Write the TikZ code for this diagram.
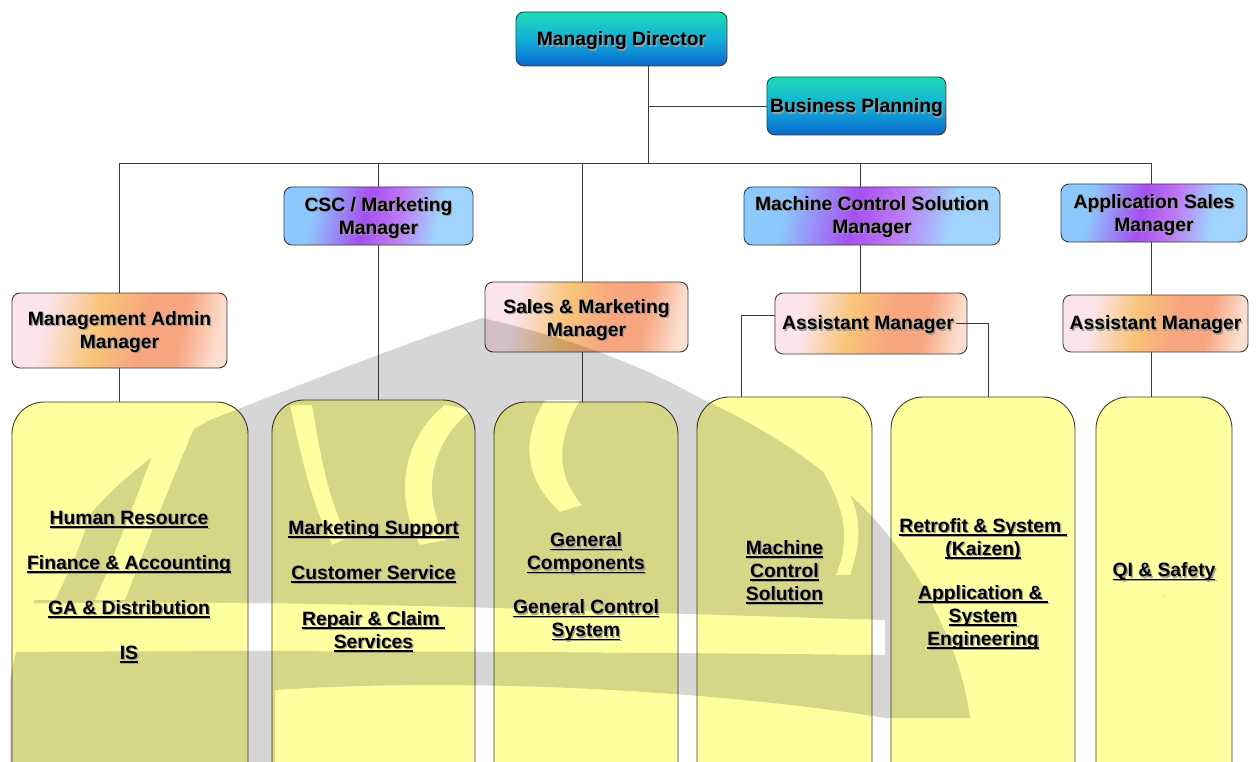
\documentclass[tikz,border=0pt]{standalone}
\usepackage{fontspec}
\setmainfont{Liberation Sans}
\usetikzlibrary{calc}

% palette
\definecolor{tealtop}{RGB}{30,218,184}
\definecolor{tealmid}{RGB}{18,176,214}
\definecolor{tealbot}{RGB}{8,104,208}
\definecolor{vblue}{RGB}{140,200,252}
\definecolor{vpurp}{RGB}{165,80,240}
\definecolor{vpurp2}{RGB}{190,120,245}
\definecolor{vblue2}{RGB}{160,212,255}
\definecolor{opink}{RGB}{252,228,236}
\definecolor{oyel}{RGB}{248,196,120}
\definecolor{osal}{RGB}{248,166,128}
\definecolor{olight}{RGB}{252,222,206}
\definecolor{unityellow}{RGB}{255,255,160}
\definecolor{linkgray}{RGB}{60,60,60}

\pgfdeclarehorizontalshading{violetsh}{100bp}{color(0bp)=(vblue); color(30bp)=(vblue); color(46bp)=(vpurp); color(56bp)=(vpurp2); color(68bp)=(vblue2); color(100bp)=(vblue2)}
\pgfdeclarehorizontalshading{orangesh}{100bp}{color(0bp)=(opink); color(30bp)=(opink); color(44bp)=(oyel); color(56bp)=(osal); color(66bp)=(osal); color(76bp)=(olight); color(100bp)=(olight)}

% underlined line of text
\newcommand\ulin[1]{\setbox0\hbox{#1}\rlap{\rule[-3.2pt]{\wd0}{1.3pt}}\box0}
% label with a soft offset shadow: name, position, content
\newcommand\shtxt[3]{%
  \node[lbl, text=black!38, xshift=1.3pt, yshift=-1.3pt] (#1s) at (#2) {#3};
  \node[lbl] (#1) at (#2) {#3};}

\tikzset{
  box/.style={draw=linkgray, line width=0.9pt, rounded corners=8pt, inner sep=0pt},
  tealbox/.style={box, top color=tealtop, bottom color=tealbot, middle color=tealmid},
  violetbox/.style={box, shade, shading=violetsh, shading angle=-12},
  orangebox/.style={box, shade, shading=orangesh, shading angle=-12},
  unitbox/.style={draw=linkgray, line width=0.9pt, rounded corners=32pt, fill=unityellow, inner sep=0pt},
  link/.style={draw=linkgray, line width=0.9pt},
  lbl/.style={font=\bfseries\fontsize{19.3}{23}\selectfont, align=center, inner sep=0pt},
}

\begin{document}
\begin{tikzpicture}[x=1pt, y=-1pt]
\useasboundingbox (0,0) rectangle (1258,762);
\fill[white] (0,0) rectangle (1258,762);
\clip (0,0) rectangle (1258,762);

% ---- boxes ----
\node[tealbox, minimum width=211pt, minimum height=54pt] (md) at (621.5,39) {};
\node[tealbox, minimum width=179pt, minimum height=58pt] (bp) at (856.5,106) {};

\node[violetbox, minimum width=189pt, minimum height=58pt] (csc) at (378.5,216) {};
\node[violetbox, minimum width=256pt, minimum height=58pt] (mcs) at (872,216) {};
\node[violetbox, minimum width=186pt, minimum height=58pt] (asm) at (1154,213) {};

\node[orangebox, minimum width=215pt, minimum height=75pt] (ma) at (119.5,330.5) {};
\node[orangebox, minimum width=203pt, minimum height=70pt] (sm) at (586.5,317) {};
\node[orangebox, minimum width=192pt, minimum height=61pt] (am1) at (871,323.5) {};
\node[orangebox, minimum width=185pt, minimum height=57pt] (am2) at (1155.5,323.5) {};

\node[unitbox, minimum width=236pt, minimum height=398pt] (b1) at (130,601) {};
\node[unitbox, minimum width=203pt, minimum height=400pt] (b2) at (373.5,600) {};
\node[unitbox, minimum width=184pt, minimum height=398pt] (b3) at (586,601) {};
\node[unitbox, minimum width=175pt, minimum height=403pt] (b4) at (784.5,598.5) {};
\node[unitbox, minimum width=184pt, minimum height=403pt] (b5) at (983,598.5) {};
\node[unitbox, minimum width=136pt, minimum height=403pt] (b6) at (1164,598.5) {};

% ---- connectors ----
\coordinate (hub) at (648,163);
\coordinate (d1) at (119.5,163);
\coordinate (d2) at (378,163);
\coordinate (d3) at (582,163);
\coordinate (d4) at (860,163);
\coordinate (d5) at (1151,163);
\coordinate (l4) at (741,0);
\coordinate (l5) at (988,0);

\draw[link] (md.south -| hub) -- (hub);
\draw[link] (hub |- bp.west) -- (bp.west);
\draw[link] (d1) -- (d5);
\draw[link] (d1) -- (ma.north);
\draw[link] (d2) -- (d2 |- csc.north);
\draw[link] (d3) -- (d3 |- sm.north);
\draw[link] (d4) -- (d4 |- mcs.north);
\draw[link] (d5) -- (d5 |- asm.north);

\draw[link] (ma.south) -- (ma.south |- b1.north);
\draw[link] (csc.south -| d2) -- (d2 |- b2.north);
\draw[link] (sm.south -| d3) -- (d3 |- b3.north);
\draw[link] (mcs.south -| d4) -- (d4 |- am1.north);
\draw[link] ($(am1.west)+(0,-8.5)$) -| (l4 |- b4.north);
\draw[link] ($(am1.east)+(-11,0)$) -| (l5 |- b5.north);
\draw[link] (asm.south -| d5) -- (d5 |- am2.north);
\draw[link] (am2.south -| d5) -- (d5 |- b6.north);

% ---- faint emblem in the background ----
\begin{scope}
  \clip (482,318) .. controls (400,345) and (300,385) .. (210,420)
        .. controls (100,480) and (30,570) .. (10,680) -- (10,800) -- (975,800)
        .. controls (975,700) and (960,660) .. (930,600)
        .. controls (880,500) and (790,440) .. (700,398)
        .. controls (650,370) and (580,340) .. (482,318) -- cycle;
  \fill[black, opacity=0.16, even odd rule]
    (0,300) rectangle (1000,800)
    % light swirls
    (10,604) .. controls (300,598) and (600,612) .. (885,620)
      -- (885,655) .. controls (600,652) and (300,650) .. (10,652) -- cycle
    (172,405) .. controls (150,460) and (125,530) .. (95,600)
      -- (125,600) .. controls (150,535) and (178,465) .. (202,410) -- cycle
    (0,470) -- (100,470) .. controls (90,530) and (70,570) .. (55,600) -- (0,600) -- cycle
    (445,405) .. controls (400,440) and (395,500) .. (420,545)
      -- (447,540) .. controls (422,500) and (427,445) .. (472,410) -- cycle
    (290,405) .. controls (300,450) and (310,500) .. (332,545)
      -- (348,538) .. controls (326,495) and (320,450) .. (312,405) -- cycle
    (545,400) .. controls (520,440) and (525,480) .. (560,512)
      -- (582,505) .. controls (556,475) and (556,440) .. (580,400) -- cycle
    (745,398) .. controls (795,420) and (840,450) .. (875,482) -- (1000,482) -- (1000,380) -- cycle
    (875,482) .. controls (905,520) and (930,550) .. (1000,560) -- (1000,482) -- cycle
    (822,470) .. controls (846,510) and (850,540) .. (836,575)
      -- (850,575) .. controls (866,530) and (858,500) .. (835,470) -- cycle
    (275,690) .. controls (450,678) and (700,688) .. (885,718) -- (1000,718)
      -- (1000,800) -- (275,800) -- cycle;
\end{scope}

% ---- labels ----
\shtxt{tmd}{621.5,41}{Managing Director}
\shtxt{tbp}{856.5,108}{Business Planning}
\shtxt{tcsc}{378.5,218}{CSC / Marketing\\Manager}
\shtxt{tmcs}{872,217}{Machine Control Solution\\Manager}
\shtxt{tasm}{1154,215}{Application Sales\\Manager}
\shtxt{tma}{119.5,332}{Management Admin\\Manager}
\shtxt{tsm}{586.5,320}{Sales \& Marketing\\Manager}
\shtxt{tam1}{868,325}{Assistant Manager}
\shtxt{tam2}{1155.5,325}{Assistant Manager}

\shtxt{tb1}{129,587}{\ulin{Human Resource}\\[22pt]\ulin{Finance \& Accounting}\\[22pt]\ulin{GA \& Distribution}\\[22pt]\ulin{IS}}
\shtxt{tb2}{373.5,586}{\ulin{Marketing Support}\\[22pt]\ulin{Customer Service}\\[23pt]\ulin{Repair \& Claim\ }\\\ulin{Services}}
\shtxt{tb3}{586,587}{\ulin{General}\\\ulin{Components}\\[21pt]\ulin{General Control}\\\ulin{System}}
\shtxt{tb4}{784.5,572}{\ulin{Machine}\\\ulin{Control}\\\ulin{Solution}}
\shtxt{tb5}{983,584}{\ulin{Retrofit \& System\ }\\\ulin{(Kaizen)}\\[21pt]\ulin{Application \&\ }\\\ulin{System}\\\ulin{Engineering}}
\shtxt{tb6}{1164,572}{\ulin{QI \& Safety}}
\node[text=black!45, font=\fontsize{8}{8}\selectfont, inner sep=0pt] (tb6dot) at (1164,596) {.};
\end{tikzpicture}
\end{document}
